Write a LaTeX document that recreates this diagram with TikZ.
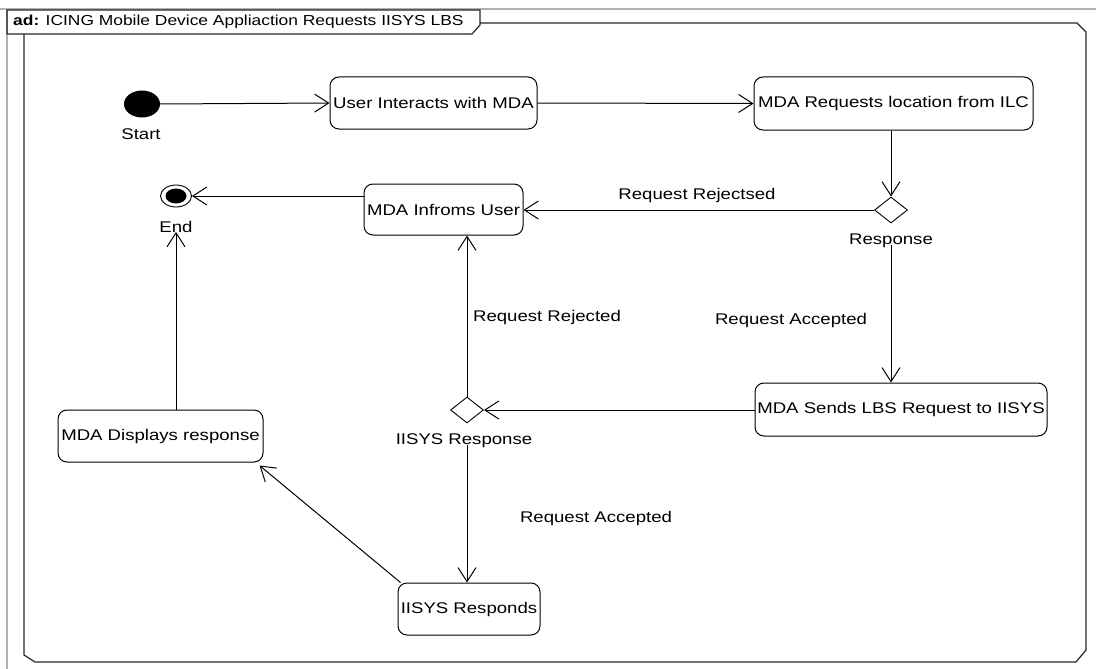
\documentclass[tikz,border=0pt]{standalone}
\usepackage{fontspec}
\setmainfont{Liberation Sans}[FakeStretch=1.2]
\usetikzlibrary{shapes.geometric,arrows.meta}
\begin{document}
\begin{tikzpicture}[x=1pt,y=-1pt,
  every node/.style={font=\fontsize{15.5}{18}\selectfont},
  act/.style={draw, rounded corners=9pt, inner sep=0pt, line width=1pt},
  dec/.style={draw, diamond, inner sep=0pt, line width=0.9pt, minimum width=33pt, minimum height=26pt, aspect=1.27},
  lbl/.style={inner sep=1pt},
  arr/.style={line width=1pt, -{Straight Barb[length=14pt,width=18pt,line width=1pt]}},
  frame/.style={line width=1.2pt, draw=black!85}]
\useasboundingbox (0,0) rectangle (1096,669);
% outer gray edges
\draw[black!30, line width=1.5pt] (0,9) -- (1096,9);
\draw[black!30, line width=1.5pt] (7,9) -- (7,669);
% title tab
\draw[frame] (7,34) -- (7,10) -- (480,10) -- (480,25) -- (472,34) -- cycle;
\node[anchor=west, inner sep=0pt, font=\fontsize{14.5}{16}\selectfont] (title) at (13,22) {\textbf{ad:} ICING Mobile Device Appliaction Requests IISYS LBS};
% main frame
\draw[frame] (480,23) -- (1077,23) -- (1086,32) -- (1086,650) -- (1076,662) -- (35,662) -- (24,655) -- (24,34);
% activities
\node[act, minimum width=207pt, minimum height=52pt] (user) at (433.5,103) {User Interacts with MDA};
\node[act, minimum width=279pt, minimum height=53pt] (req) at (893.5,103.5) {MDA Requests location from ILC};
\node[act, minimum width=159pt, minimum height=51pt] (inf) at (443.5,209.5) {MDA Infroms User};
\node[act, minimum width=292pt, minimum height=53pt] (sends) at (901,409.5) {MDA Sends LBS Request to IISYS};
\node[act, minimum width=205pt, minimum height=52pt] (disp) at (160.5,436) {MDA Displays response};
\node[act, minimum width=142pt, minimum height=52pt] (resps) at (469,609) {IISYS Responds};
% start / end
\node[ellipse, fill=black, minimum width=36pt, minimum height=27pt, inner sep=0pt] (start) at (142,104) {};
\node[lbl] (startlbl) at (141,134) {Start};
\node[ellipse, draw, line width=0.9pt, minimum width=31pt, minimum height=22pt, inner sep=0pt] (end) at (176,196) {};
\node[ellipse, fill=black, minimum width=21pt, minimum height=15pt, inner sep=0pt] (endin) at (176,196) {};
\node[lbl] (endlbl) at (176,227) {End};
% decisions
\node[dec] (resp) at (891,210) {};
\node[lbl] (resplbl) at (891,241) {Response};
\node[dec] (iresp) at (467,410) {};
\node[lbl] (iresplbl) at (464,441) {IISYS Response};
% edge labels
\node[lbl] (rej1) at (697,195) {Request Rejectsed};
\node[lbl] (acc1) at (791,320) {Request Accepted};
\node[lbl] (rej2) at (547,317) {Request Rejected};
\node[lbl] (acc2) at (596,518) {Request Accepted};
% edges
\draw[arr] (start.east) -- (user.west);
\draw[arr] (user.east) -- (req.west);
\draw[arr] (req.south -| resp.north) -- (resp.north);
\draw[arr] (resp.west) -- (resp.west -| inf.east);
\draw[arr] ([yshift=4pt]resplbl.south -| resp.south) -- (resp.south |- sends.north);
\draw[arr] (sends.west |- iresp.east) -- (iresp.east);
\draw[arr] (iresp.north) -- (iresp.north |- inf.south);
\draw[arr] ([yshift=4pt]iresplbl.south -| iresp.south) -- (iresp.south |- resps.north);
\draw[arr] ([xshift=3pt]resps.north west) -- ([xshift=-4pt,yshift=-3pt]disp.south east);
\draw[arr] (disp.north -| endlbl.south) -- ([yshift=2pt]endlbl.south);
\draw[arr] (inf.west |- end.east) -- (end.east);
\end{tikzpicture}
\end{document}
